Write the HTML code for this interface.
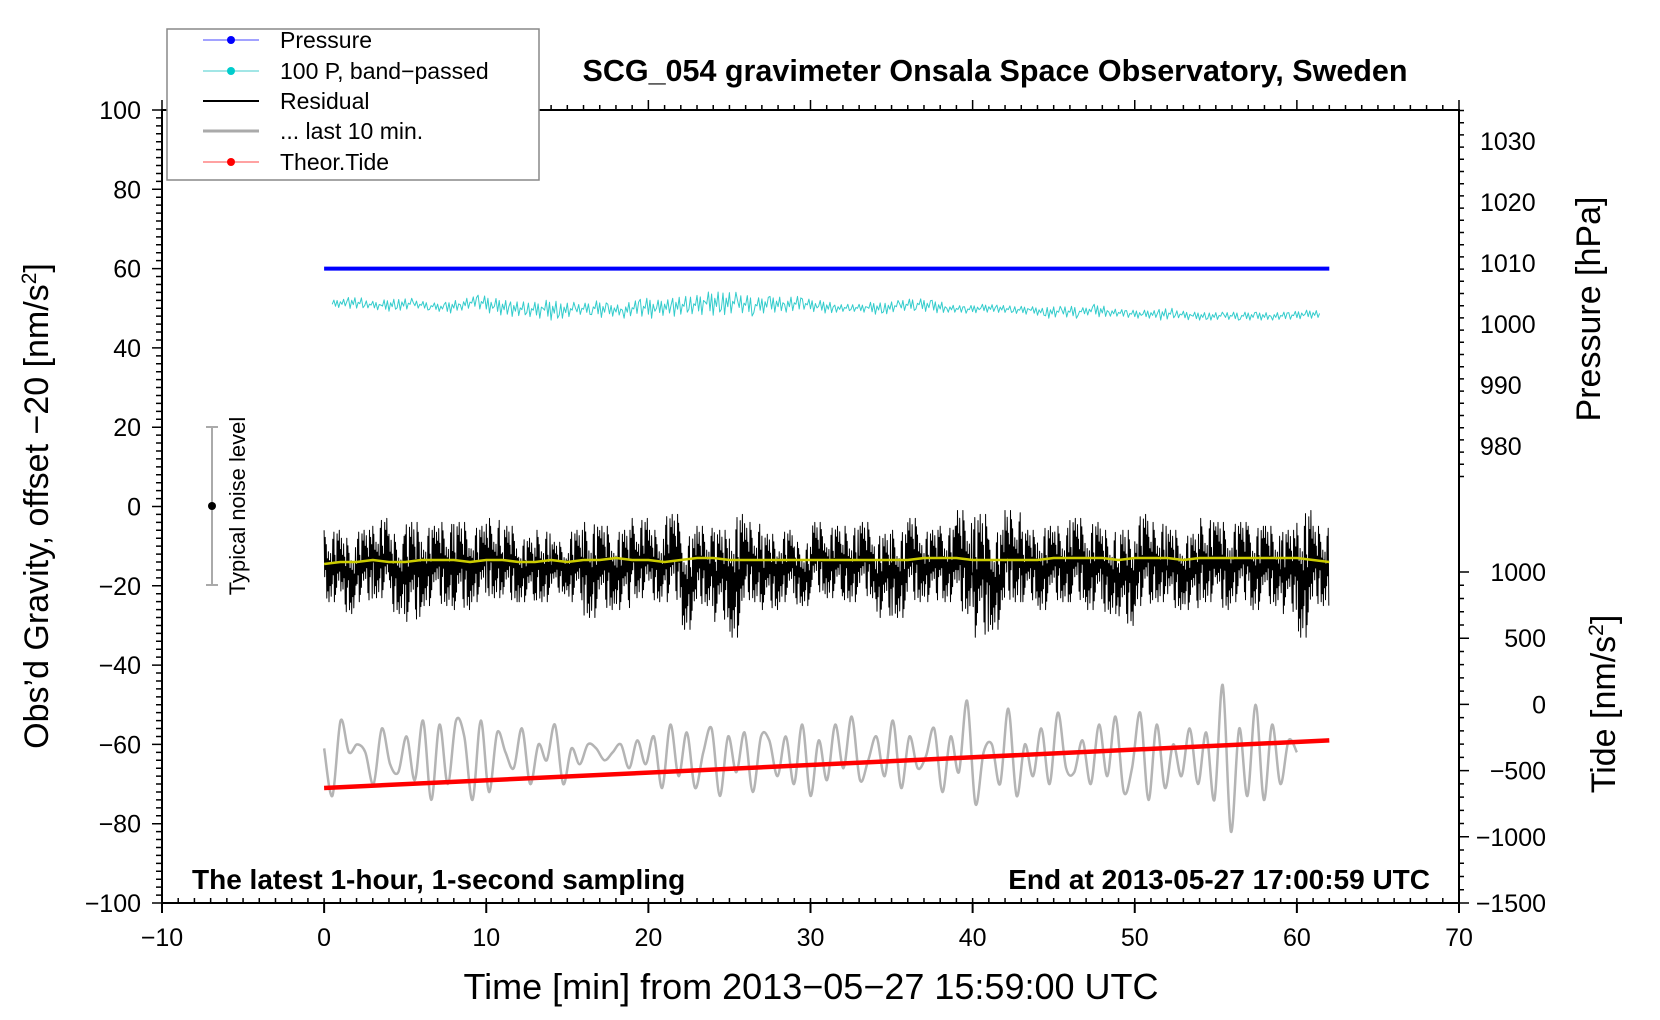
<!DOCTYPE html>
<html><head><meta charset="utf-8"><style>
body{margin:0;background:#fff}
svg{display:block;font-family:"Liberation Sans",Arial,sans-serif}
</style></head><body>
<svg id="chart" width="1660" height="1020" viewBox="0 0 1660 1020">
<g id="plot"></g>
<g id="axes"></g>
<text x="995" y="81" font-size="30.5" font-weight="bold" text-anchor="middle">SCG_054 gravimeter Onsala Space Observatory, Sweden</text>
<text x="192" y="889" font-size="28" font-weight="bold">The latest 1-hour, 1-second sampling</text>
<text x="1430" y="889" font-size="28" font-weight="bold" text-anchor="end">End at 2013-05-27 17:00:59 UTC</text>
<text x="811" y="999" font-size="36" text-anchor="middle">Time [min] from 2013−05−27 15:59:00 UTC</text>
<text transform="translate(48,506) rotate(-90)" font-size="34" text-anchor="middle">Obs’d Gravity, offset −20 [nm/s<tspan font-size="21" dy="-12">2</tspan><tspan dy="12">]</tspan></text>
<text transform="translate(1600,309) rotate(-90)" font-size="34" text-anchor="middle">Pressure [hPa]</text>
<text transform="translate(1615,704) rotate(-90)" font-size="34" text-anchor="middle">Tide [nm/s<tspan font-size="21" dy="-12">2</tspan><tspan dy="12">]</tspan></text>
<g>
<line x1="212" y1="427" x2="212" y2="585" stroke="#aaa" stroke-width="2"/>
<line x1="206" y1="427" x2="218" y2="427" stroke="#aaa" stroke-width="2"/>
<line x1="206" y1="585" x2="218" y2="585" stroke="#aaa" stroke-width="2"/>
<circle cx="212" cy="506" r="4" fill="#000"/>
<text transform="translate(245,506) rotate(-90)" font-size="22" text-anchor="middle">Typical noise level</text>
</g>
<g>
<rect x="167" y="29" width="372" height="151" fill="#fff" stroke="#888" stroke-width="1.5"/>
<g><line x1="203" y1="40" x2="259" y2="40" stroke="#44f" stroke-width="1"/><circle cx="231" cy="40" r="4" fill="#00f"/><text x="280" y="48" font-size="23">Pressure</text></g>
<g><line x1="203" y1="71" x2="259" y2="71" stroke="#4cc" stroke-width="1"/><circle cx="231" cy="71" r="4" fill="#0cc"/><text x="280" y="79" font-size="23">100 P, band−passed</text></g>
<g><line x1="203" y1="101" x2="259" y2="101" stroke="#000" stroke-width="2"/><text x="280" y="109" font-size="23">Residual</text></g>
<g><line x1="203" y1="131" x2="259" y2="131" stroke="#aaa" stroke-width="3"/><text x="280" y="139" font-size="23">... last 10 min.</text></g>
<g><line x1="203" y1="162" x2="259" y2="162" stroke="#f44" stroke-width="1"/><circle cx="231" cy="162" r="4" fill="#f00"/><text x="280" y="170" font-size="23">Theor.Tide</text></g>
</g>
</svg>
<script>
// ---- data ----
const xTicks=[-10,0,10,20,30,40,50,60,70];
const yTicks=[-100,-80,-60,-40,-20,0,20,40,60,80,100];
const pTicks=[980,990,1000,1010,1020,1030];
const tTicks=[-1500,-1000,-500,0,500,1000];
const pressure=[1010.0,1010.0,1010.0,1010.0,1010.0,1010.0,1010.0,1010.0,1010.0,1010.0,1010.0,1010.0,1010.0,1010.0,1010.0];
const bandP=[51,51.5,51,50.5,51,51,50.5,50,51,51.5,50.5,50,49.5,49.5,49.5,49.5,50,49.5,49.5,50,50,50.5,50.5,51,51.5,51,50.5,51,51,51,50.5,50,50,50,50,50.5,51,50.5,50,49.5,50,50,49.5,49.5,49,49,49,49.5,49,48.5,48.5,48.5,48.5,48,48,48,48,48,48,48,48.5,48.5];
const bandAmp=[1,1.5,1,1.5,1.5,1,1,1.5,1.5,2,2,2,2,2.5,2,1.5,2,1.5,2,2.5,2,2.5,2.5,3,3,2.5,2,2,2,1.5,1.5,1,1,1.5,1.5,1.5,1.5,1.5,1,1,1,1,1,1,1.5,1.5,1,1.5,1,1,1,1.5,1,1,1,1,1,1,1,1,1,1];
const resHi=[-6,-8,-6,-3,-7,-4,-5,-4,-4,-5,-3,-5,-8,-6,-9,-6,-4,-5,-6,-3,-6,-2,-7,-5,-6,-2,-4,-7,-6,-9,-4,-5,-5,-4,-7,-6,-3,-6,-5,-1,-2,-6,-1,-6,-5,-5,-3,-4,-6,-6,-2,-4,-6,-7,-3,-4,-4,-5,-5,-6,-1,-5];
const resLo=[-24,-27,-24,-23,-27,-29,-25,-25,-26,-24,-23,-24,-24,-24,-22,-24,-28,-26,-26,-23,-24,-24,-31,-25,-29,-33,-24,-26,-24,-25,-22,-23,-24,-23,-28,-28,-24,-24,-24,-27,-33,-31,-24,-24,-26,-24,-24,-26,-27,-30,-25,-24,-26,-26,-24,-26,-24,-26,-25,-27,-33,-25];
const yellow=[-14.5,-14,-14,-13.5,-14,-14,-13.5,-13.5,-13.5,-14,-13.5,-13.5,-14,-14,-13.5,-14,-13.5,-13.5,-13,-13.5,-13.5,-14,-13.5,-13,-13,-13.5,-13.5,-13.5,-13.5,-13.5,-13.5,-13.5,-13.5,-13.5,-13.5,-13.5,-13.5,-13,-13,-13,-13.5,-13.5,-13.5,-13.5,-13.5,-13,-13,-13,-13,-13.5,-13,-13,-13,-13.5,-13,-13,-13,-13,-13,-13,-13,-13.5,-14];
const last10=[-61,-73,-54,-62,-60,-62,-70,-56,-65,-67,-58,-69,-54,-74,-55,-70,-54,-58,-74,-54,-72,-57,-62,-66,-56,-70,-60,-64,-55,-70,-61,-65,-60,-61,-64,-62,-60,-66,-59,-65,-58,-71,-55,-68,-57,-71,-62,-56,-73,-58,-67,-57,-72,-58,-59,-68,-58,-70,-55,-73,-59,-69,-55,-66,-53,-69,-64,-58,-68,-54,-71,-58,-66,-63,-56,-72,-58,-67,-49,-75,-62,-60,-70,-51,-73,-60,-68,-56,-70,-52,-66,-67,-59,-70,-55,-68,-53,-72,-66,-52,-74,-55,-71,-60,-68,-56,-70,-57,-74,-45,-82,-56,-73,-50,-74,-55,-70,-59,-62];
const tideStart=-71, tideEnd=-59;
// ---- axes ----
const X=v=>162+(v+10)*1297/80;
const YL=v=>110+(100-v)*793/200;
const YP=p=>141+(1030-p)*6.1;
const YT=t=>903-(t+1500)*0.1324;
const NS='http://www.w3.org/2000/svg';
const plot=document.getElementById('plot'), axes=document.getElementById('axes');
function mk(tag,attrs,parent){const e=document.createElementNS(NS,tag);for(const k in attrs)e.setAttribute(k,attrs[k]);parent.appendChild(e);return e;}
function poly(pts,stroke,w,name){const e=mk('polyline',{points:pts.map(p=>p[0].toFixed(1)+','+p[1].toFixed(1)).join(' '),fill:'none',stroke:stroke,'stroke-width':w,'stroke-linejoin':'round'},plot);

return e;}
function smooth(pts,stroke,w,name){let d=`M${pts[0][0]},${pts[0][1]}`;for(let i=0;i<pts.length-1;i++){const p0=pts[Math.max(0,i-1)],p1=pts[i],p2=pts[i+1],p3=pts[Math.min(pts.length-1,i+2)];
d+=`C${(p1[0]+(p2[0]-p0[0])/6).toFixed(1)},${(p1[1]+(p2[1]-p0[1])/6).toFixed(1)} ${(p2[0]-(p3[0]-p1[0])/6).toFixed(1)},${(p2[1]-(p3[1]-p1[1])/6).toFixed(1)} ${p2[0].toFixed(1)},${p2[1].toFixed(1)}`;}
const e=mk('path',{d:d,fill:'none',stroke:stroke,'stroke-width':w},plot);

return e;}
// pressure
let pp=[];pressure.forEach((v,i)=>pp.push([X(i*62/(pressure.length-1)),YL(60)+(1010-v)*6.1]));
poly(pp,'#0000ff',4,'pressure-line');
// band-passed
const jit=[0,1,-0.6,0.8,-1,0.4,-0.3,0.9,-0.8,0.2];
let bp=[];bandP.forEach((v,i)=>{if(i>=bandP.length-1)return;for(let k=0;k<10;k++){const x=i+0.5+k/10;if(x>61.5)break;const b=v+(bandP[i+1]-v)*k/10;bp.push([X(x),YL(b+jit[(k+i*3)%10]*bandAmp[i])]);}});
poly(bp,'#33cccc',1,'bandpassed-pressure-line');
// residual
const fr=[1,0.3,0.8,0.1,0.6,0.9,0.2,0.7,0.4,1,0.15,0.55,0.35,0.85,0.05,0.5,0.75,0.25,0.95];
let rp=[];resHi.forEach((h,i)=>{const l=resLo[i];const m=(h+l)/2;for(let k=0;k<30;k++){const f=fr[(k+i*7)%19];const v=(k%2==0)?m+(h-m)*f:m+(l-m)*f;rp.push([X(i+k/30),YL(v)]);}});
poly(rp,'#000',1,'residual-line');
// yellow smoothed
let yp=[];yellow.forEach((v,i)=>yp.push([X(i*62/(yellow.length-1)),YL(v)]));
poly(yp,'#cccc00',2.5,'residual-smoothed-line');
// last 10 min
let gp=[];last10.forEach((v,i)=>gp.push([X(i*60/(last10.length-1)),YL(v)]));
smooth(gp,'#b4b4b4',2.5,'last-10-min-line');
// tide
poly([[X(0),YL(tideStart)],[X(62),YL(tideEnd)]],'#ff0000',4.5,'theoretical-tide-line');
// frame
mk('rect',{x:162,y:110,width:1297,height:793,fill:'none',stroke:'#000','stroke-width':2},axes);
let d='';
for(let v=-10;v<=70;v+=1){const x=X(v);d+=`M${x} 110v${v%10==0?-10:-5}M${x} 903v-5`;}
for(let v=-100;v<=100;v+=2){const y=YL(v);d+=`M162 ${y}h${v%20==0?-10:-6}`;}
for(let p=975;p<=1035;p+=2){const y=YP(p);if(y>110&&y<903)d+=`M1459 ${y}h${p%10==0?10:5}`;}
for(let t=-1500;t<=1000;t+=100){const y=YT(t);d+=`M1459 ${y}h${t%500==0?10:5}`;}
mk('path',{d:d,stroke:'#000','stroke-width':1.5,fill:'none'},axes);
let d2='';xTicks.forEach(v=>d2+=`M${X(v)} 903v10`);mk('path',{d:d2,stroke:'#000','stroke-width':2},axes);
xTicks.forEach(v=>{const t=mk('text',{x:X(v),y:946,'font-size':25,'text-anchor':'middle'},axes);t.textContent=(v<0?'−':'')+Math.abs(v);

});
yTicks.forEach(v=>{const t=mk('text',{x:141,y:YL(v)+9,'font-size':25,'text-anchor':'end'},axes);t.textContent=(v<0?'−':'')+Math.abs(v);

});
pTicks.forEach(v=>{const t=mk('text',{x:1480,y:YP(v)+9,'font-size':25},axes);t.textContent=v;

});
tTicks.forEach(v=>{const t=mk('text',{x:1546,y:YT(v)+9,'font-size':25,'text-anchor':'end'},axes);t.textContent=(v<0?'−':'')+Math.abs(v);

});
</script>
</body></html>
